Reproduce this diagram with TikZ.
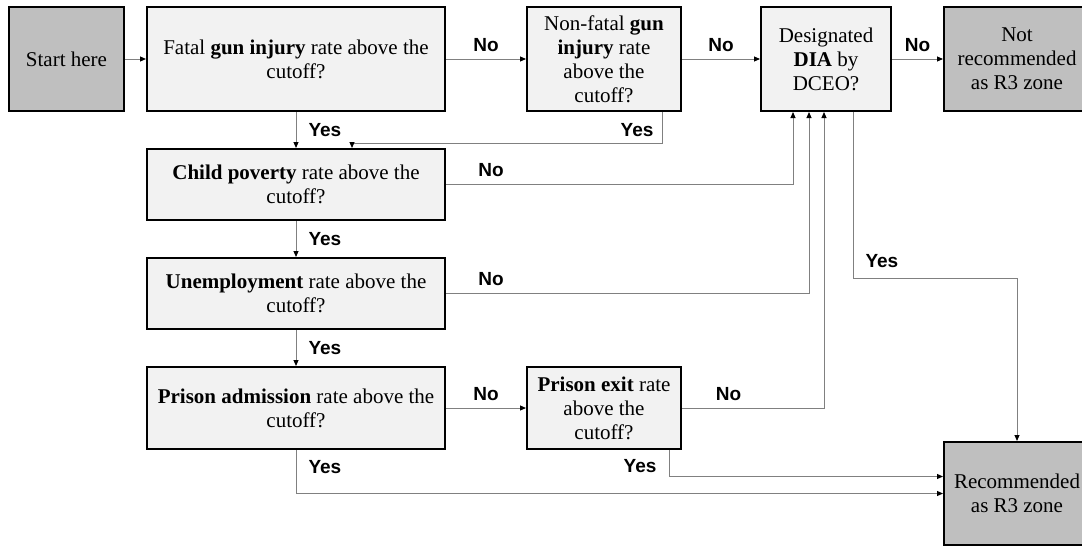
\documentclass[tikz,border=0pt]{standalone}
\usepackage{fontspec}
\setmainfont{Liberation Serif}
\newfontfamily\lblfont{Liberation Sans}
\usetikzlibrary{arrows.meta, positioning}
\definecolor{boxfill}{HTML}{F2F2F2}
\definecolor{termfill}{HTML}{BFBFBF}
\definecolor{linegray}{HTML}{808080}

\begin{document}
\begin{tikzpicture}[
      box/.style={rectangle, draw, line width=2pt, fill=boxfill, align=center, inner sep=4pt,
        font=\fontsize{21}{24}\selectfont},
      term/.style={box, fill=termfill},
      arrow/.style={-{Triangle[length=6pt, width=5pt, color=black]}, draw=linegray, line width=1pt},
      lbl/.style={font=\lblfont\bfseries\fontsize{19}{22}\selectfont, inner sep=3pt}
    ]
    \useasboundingbox (0,0) rectangle (1082pt,-546pt);

    % Top row
    \node[term, minimum width=115pt, minimum height=104pt] (start) at (66.5pt,-59pt) {Start here};
    \node[box, minimum width=298pt, minimum height=104pt, right=21pt of start] (fatal)
      {Fatal \textbf{gun injury} rate above the\\cutoff?};
    \node[box, minimum width=154pt, minimum height=104pt, right=80pt of fatal] (nonfatal)
      {Non-fatal \textbf{gun}\\\textbf{injury} rate\\above the\\cutoff?};
    \node[box, minimum width=130pt, minimum height=104pt, right=78pt of nonfatal] (desig)
      {Designated\\\textbf{DIA} by\\DCEO?};
    \node[term, minimum width=146pt, minimum height=104pt, right=51pt of desig] (notrec)
      {Not\\recommended\\as R3 zone};

    % Left column
    \node[box, minimum width=298pt, minimum height=71pt, below=36pt of fatal] (child)
      {\textbf{Child poverty} rate above the\\cutoff?};
    \node[box, minimum width=298pt, minimum height=71pt, below=36pt of child] (unemp)
      {\textbf{Unemployment} rate above the\\cutoff?};
    \node[box, minimum width=298pt, minimum height=82pt, below=36pt of unemp] (admit)
      {\textbf{Prison admission} rate above the\\cutoff?};
    \node[box, minimum width=154pt, minimum height=82pt, right=80pt of admit] (exit)
      {\textbf{Prison exit} rate\\above the\\cutoff?};

    % Result
    \node[term, minimum width=146pt, minimum height=103pt, below=329pt of notrec] (rec)
      {Recommended\\as R3 zone};

    % No arrows
    \draw[arrow] (start) -- (fatal);
    \draw[arrow] (fatal) -- node[lbl, above=4pt] {No} (nonfatal);
    \draw[arrow] (nonfatal) -- node[lbl, above=4pt] {No} (desig);
    \draw[arrow] (desig) -- node[lbl, above=4pt] {No} (notrec);
    \draw[arrow] (child.east) -| node[lbl, pos=0.065, above=4pt] {No} ([xshift=-33pt]desig.south);
    \draw[arrow] (unemp.east) -| node[lbl, pos=0.062, above=4pt] {No} ([xshift=-17pt]desig.south);
    \draw[arrow] (admit) -- node[lbl, above=4pt] {No} (exit);
    \draw[arrow] (exit.east) -| node[lbl, pos=0.164, above=4pt] {No} ([xshift=-2pt]desig.south);

    % Yes arrows
    \draw[arrow] (fatal) -- node[lbl, right=9pt] {Yes} (child);
    \draw[arrow] ([xshift=-20pt]nonfatal.south east) -- ++(0,-31pt)
      node[lbl, above left=3pt and 5pt] {Yes} -| ([xshift=56pt]child.north);
    \draw[arrow] (child) -- node[lbl, right=9pt] {Yes} (unemp);
    \draw[arrow] (unemp) -- node[lbl, right=9pt] {Yes} (admit);
    \draw[arrow] ([xshift=27pt]desig.south) -- ++(0,-166pt)
      node[lbl, above right=7pt and 9pt] {Yes} -| (rec.north);
    \draw[arrow] (admit.south) |- node[lbl, pos=0.2, right=9pt] {Yes} (rec.west);
    \draw[arrow] ([xshift=-13pt]exit.south east) |- node[lbl, pos=0.31, left=9pt] {Yes} ([yshift=17pt]rec.west);

  \end{tikzpicture}
\end{document}
